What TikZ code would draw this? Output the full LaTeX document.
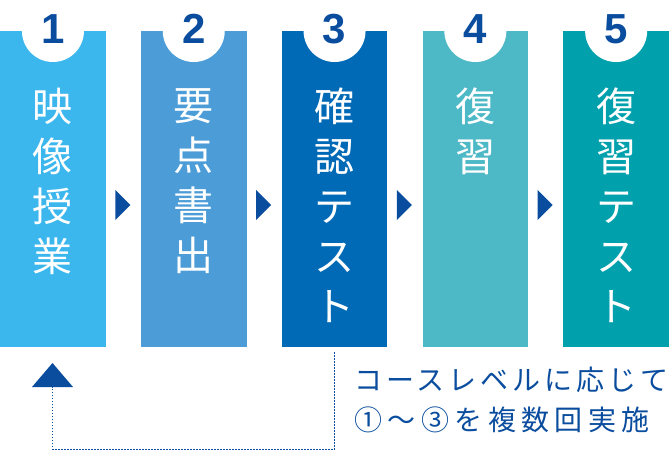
\documentclass[tikz,border=0pt]{standalone}
\usepackage{fontspec}
\setmainfont{Noto Sans CJK JP}
\newfontfamily\numfont{Liberation Sans}

\definecolor{bxone}{HTML}{3BB7EE}
\definecolor{bxtwo}{HTML}{4B9CD7}
\definecolor{bxthree}{HTML}{006AB6}
\definecolor{bxfour}{HTML}{4DB8C6}
\definecolor{bxfive}{HTML}{00A1AD}
\definecolor{navy}{HTML}{0A4D9E}

\tikzset{
 stepbox/.style={minimum width=105.5pt, minimum height=316pt, inner sep=0pt, anchor=north west},
 stepnum/.style={font=\numfont\bfseries\fontsize{42}{42}\selectfont, text=navy, inner sep=0pt, anchor=base},
 steptext/.style={font=\fontsize{40}{50}\selectfont, text=white, align=center, inner sep=0pt, anchor=north},
 feedback/.style={navy!90!bxthree, line width=1.5pt, dash pattern=on 1.5pt off 1.5pt},
 note/.style={font=\addfontfeature{LetterSpace=14}\fontsize{28}{40}\selectfont, text=navy, align=left, inner sep=0pt, anchor=north west}
}

\begin{document}
\begin{tikzpicture}[x=1pt,y=-1pt]
 \useasboundingbox (0,0) rectangle (669,451);
 \foreach \i/\c/\t in {1/bxone/{映\\像\\授\\業}, 2/bxtwo/{要\\点\\書\\出}, 3/bxthree/{確\\認\\テ\\ス\\ト},
   4/bxfour/{復\\習}, 5/bxfive/{復\\習\\テ\\ス\\ト}}
 {
  \node[stepbox, fill=\c] (b\i) at ({140.8*(\i-1)},31) {};
  \fill[white] (b\i.north) circle (31pt);
  \node[stepnum] (n\i) at ([yshift=-12pt]b\i.north) {\i};
  \node[steptext] (t\i) at ([yshift=-57pt]b\i.north) {\t};
 }
 \foreach \i in {1,...,4}
  \fill[navy] ({140.8*\i-25.5},190) -- ++(15,15) -- ++(-15,15) -- cycle;

 % back to step 1
 \coordinate (back) at (52.5,387);
 \fill[navy] (back) ++(-20.5,0) -- ++(20.5,-24) -- ++(20.5,24) -- cycle;
 \draw[feedback] ([yshift=-5pt]b3.south) -- ++(0,97) -| (back);
 \node[note] (note) at (354,367) {コースレベルに応じて\\{\addfontfeature{LetterSpace=19.5}①～③を複数回実施}};
\end{tikzpicture}
\end{document}
